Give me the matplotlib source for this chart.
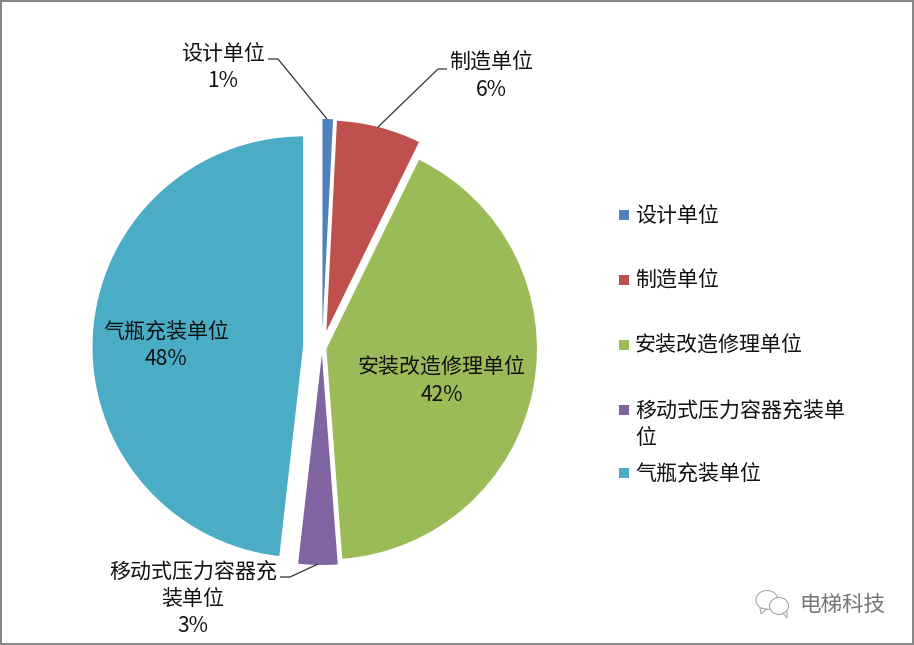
import matplotlib
matplotlib.use("Agg")
import matplotlib.pyplot as plt
from matplotlib.patches import Ellipse, Polygon, Rectangle

plt.rcParams['font.family'] = ['Noto Sans CJK SC', 'DejaVu Sans']

names = ['设计单位', '制造单位', '安装改造修理单位', '移动式压力容器充装单位', '气瓶充装单位']
values = [0.8, 6.45, 41.55, 3.0, 48.2]
percent_labels = ['1%', '6%', '42%', '3%', '48%']
legend_labels = ['设计单位', '制造单位', '安装改造修理单位', '移动式压力容器充装单\n位', '气瓶充装单位']
colors = ['#4F81BD', '#C0504D', '#9BBB59', '#8064A2', '#4BACC6']
explode = [18.5, 17.5, 4.5, 6.5, 19]

fig = plt.figure(figsize=(9.14, 6.45), dpi=100)
ax = fig.add_axes([0, 0, 1, 1])

# axes run in picture pixels, y going down, so angles are flipped too
wedges, _ = ax.pie(values, colors=colors, explode=explode, center=(322, 348), radius=210.5,
                   startangle=-90, counterclock=True)
ax.set_xlim(0, 914)
ax.set_ylim(645, 0)
ax.set_aspect('auto')
ax.axis('off')

# data labels
fs = 15.1
label_lines = [
    (223, [names[0], percent_labels[0]], 54),
    (491, [names[1], percent_labels[1]], 63),
    (442, [names[2], percent_labels[2]], 368),
    (193, ['移动式压力容器充', '装单位', percent_labels[3]], 572),
    (166, [names[4], percent_labels[4]], 332),
]
for x, lines, y in label_lines:
    for i, line in enumerate(lines):
        ax.text(x, y + i * 27, line, ha='center', va='center', fontsize=fs, color='#111111')

# leader lines
leaders = [
    ([268, 278, 327], [59, 59, 119]),
    ([447, 438, 378], [69, 69, 127]),
    ([280, 290, 318], [577, 577, 564]),
]
for lx, ly in leaders:
    ax.plot(lx, ly, color='#333333', lw=0.9, solid_capstyle='butt')

# legend
legend_y = [215, 280, 345, 410, 473]
for label, color, y in zip(legend_labels, colors, legend_y):
    ax.add_patch(Rectangle((619, y - 5), 10, 10, facecolor=color, edgecolor='none'))
    for i, line in enumerate(label.split('\n')):
        ax.text(635, y + 1 + i * 27, line, ha='left', va='center', fontsize=fs, color='#111111')

# watermark
gray = '#a8a8a8'
ax.add_patch(Ellipse((767, 600), 22, 19, facecolor='white', edgecolor=gray, lw=0.8))
ax.add_patch(Polygon([[760, 608], [761, 614], [767, 609]], facecolor='white', edgecolor=gray, lw=0.8))
ax.add_patch(Ellipse((779, 606), 19, 17, facecolor='white', edgecolor=gray, lw=0.8))
ax.add_patch(Polygon([[783, 613], [787, 618], [787, 611]], facecolor='white', edgecolor=gray, lw=0.8))
ax.text(842, 605, '电梯科技', ha='center', va='center', fontsize=15.5, color='#777777')

# outer frame, half of the line width falls outside the figure
fig.add_artist(Rectangle((0, 0), 1, 1, transform=fig.transFigure, fill=False,
                         edgecolor='#868686', lw=2.88))

fig.savefig('out.png', dpi=100)
